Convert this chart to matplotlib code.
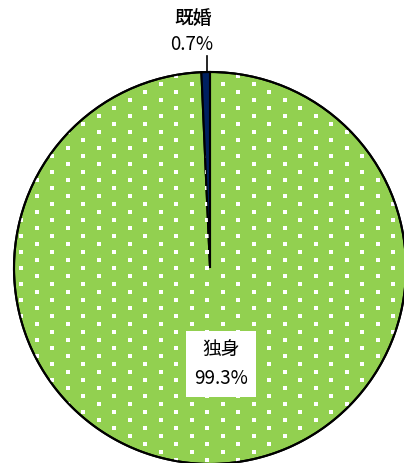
import matplotlib
matplotlib.use("Agg")
import matplotlib.pyplot as plt
import numpy as np

plt.rcParams['font.family'] = ['Noto Sans CJK JP', 'DejaVu Sans']

labels = ["独身", "既婚"]
values = [99.3, 0.7]
colors = ["#92d050", "#002060"]

W, H = 404, 463
fig = plt.figure(figsize=(W / 100, H / 100), dpi=100)
ax = fig.add_axes([0, 0, 1, 1])

cx, cy, r = 210, H - 268, 196
wedges, _ = ax.pie(values, colors=colors, startangle=90, counterclock=False,
                   center=(cx, cy), radius=r, frame=True,
                   wedgeprops=dict(edgecolor="black", linewidth=1.5))

# white dotted pattern over the green slice
pat = np.zeros((H, W, 4))
for row, y0 in enumerate(range(2, H, 8)):
    off = 0 if row % 2 == 0 else 15
    for x0 in range(off + 4, W, 31):
        pat[y0:y0 + 4, x0:x0 + 4] = [1, 1, 1, 1]
im = ax.imshow(pat, extent=(0, W, 0, H), origin="upper", zorder=3, interpolation="nearest")
im.set_clip_path(wedges[0])

for w in wedges:
    w.set_zorder(2)
outline = plt.Circle((cx, cy), r, fill=False, edgecolor="black", linewidth=1.5, zorder=4)
ax.add_patch(outline)

ax.set_xlim(0, W)
ax.set_ylim(0, H)
ax.set_aspect("equal")
ax.axis("off")

# labels
ax.text(193, H - 18, labels[1], ha="center", va="center", fontsize=13.5, fontweight="medium")
ax.text(192, H - 44, f"{values[1]}%", ha="center", va="center", fontsize=13.5)
ax.plot([207, 207], [H - 56, H - 72], color="black", linewidth=1.2, zorder=5)

ax.text(221, H - 364, f"{labels[0]}\n{values[0]}%", ha="center", va="center",
        fontsize=13.5, linespacing=1.5, zorder=6,
        bbox=dict(facecolor="white", edgecolor="none", pad=6))

fig.savefig("out.png", dpi=100)
